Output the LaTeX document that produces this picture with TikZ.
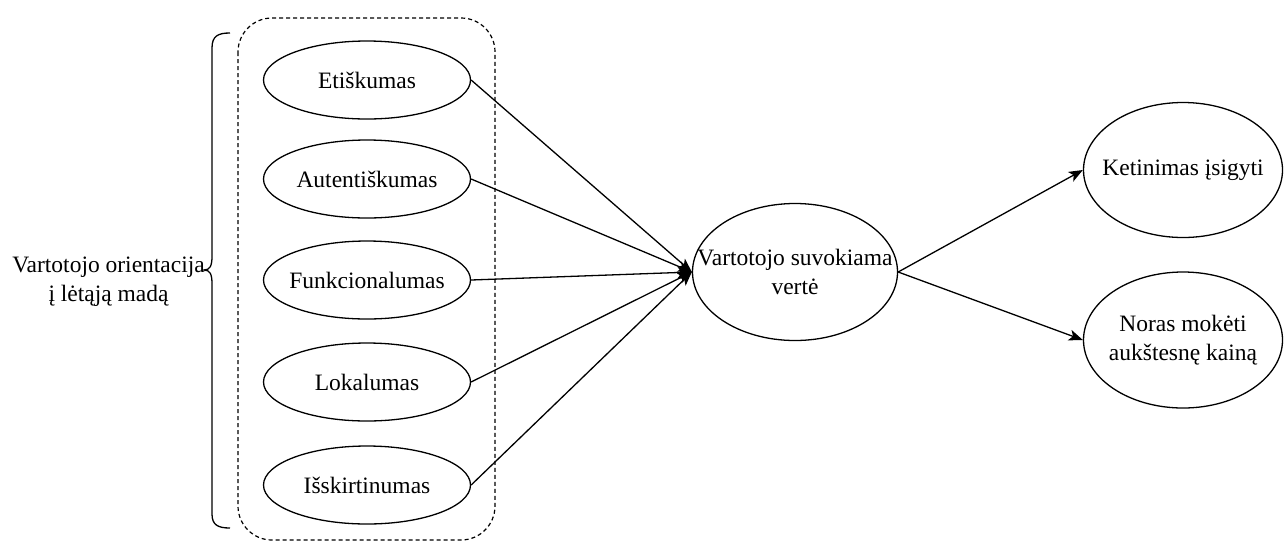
\documentclass[tikz,border=0pt]{standalone}
\usepackage{fontspec}
\setmainfont{Liberation Serif}
\usetikzlibrary{arrows.meta,shapes.geometric}
\begin{document}
\begin{tikzpicture}[x=1pt,y=-1pt,
  oval/.style={ellipse,draw,line width=1.3pt,inner sep=0pt},
  small/.style={oval,minimum width=207pt,minimum height=78pt},
  big/.style={oval,minimum width=205pt,minimum height=137pt},
  txt/.style={align=center,inner sep=0pt,font=\fontsize{23.5}{29}\selectfont},
  arr/.style={line width=1.3pt,-{Stealth[length=14pt,width=11pt,inset=3.5pt]}},
  grp/.style={draw,dash pattern=on 4pt off 3pt,line width=1.2pt,rounded corners=34pt},
  brace/.style={draw,line width=1.3pt}
]
\useasboundingbox (0,0) rectangle (1284,542);
\path[grp] (238,18) rectangle (495,540);
\node[small] (e1) at (367,80) {};
\node[small] (e2) at (367,179) {};
\node[small] (e3) at (367,280) {};
\node[small] (e4) at (367,382) {};
\node[small] (e5) at (367,485) {};
\node[txt] at (e1) {Etiškumas};
\node[txt] at (e2) {Autentiškumas};
\node[txt] at (e3) {Funkcionalumas};
\node[txt] at (e4) {Lokalumas};
\node[txt] at (e5) {Išskirtinumas};
\node[big] (v) at (795,272) {};
\node[txt] at (v) {Vartotojo suvokiama\\vertė};
\node[oval,minimum width=199pt,minimum height=135pt] (k) at (1183,170) {};
\node[txt] at (k) {Ketinimas įsigyti};
\node[oval,minimum width=199pt,minimum height=136pt] (n) at (1183,340) {};
\node[txt] at (n) {Noras mokėti\\aukštesnę kainą};
\foreach \s in {e1,e2,e3,e4,e5} \draw[arr] (\s.east) -- (v.west);
\draw[arr] (v.east) -- (k.west);
\draw[arr] (v.east) -- (n.west);
\path[brace] (230,33) .. controls (218,33) and (212,36) .. (212,48) -- (212,256)
  .. controls (212,266) and (210,270) .. (204,270)
  .. controls (210,270) and (212,274) .. (212,284) -- (212,514)
  .. controls (212,525) and (218,528) .. (230,528);
\node[txt,anchor=east] (lbl) at (205,282) {Vartotojo orientacija\\į lėtąją madą};
\end{tikzpicture}
\end{document}
